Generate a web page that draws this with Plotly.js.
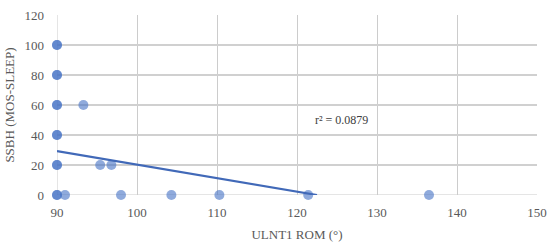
<!DOCTYPE html>
<html>
<head>
<meta charset="utf-8">
<script src="https://cdn.plot.ly/plotly-3.0.1.min.js"></script>
<style>
  html, body { margin: 0; padding: 0; background: #fff; }
  #chart { width: 550px; height: 249px; }
</style>
</head>
<body>
<div id="chart"></div>
<script>
// ULNT1 ROM vs SSBH (MOS-SLEEP) scatter
// points at 90 are listed twice where they look darker (overlapping marks)
var romDeg = [90, 90, 90, 90, 90, 90, 90, 90, 90, 90, 90, 90,
              93.3, 95.4, 96.8, 91, 98, 104.3, 110.3, 121.4, 136.5];
var ssbh   = [100, 100, 80, 80, 60, 60, 40, 40, 20, 20, 0, 0,
              60, 20, 20, 0, 0, 0, 0, 0, 0];

// linear trendline ends, as drawn (clipped at y = 0)
var trendX = [90, 122.5];
var trendY = [29.3, 0];

var serif = "Liberation Serif, DejaVu Serif, serif";
var tickFont = {family: serif, size: 13, color: "#595959"};

var points = {
  x: romDeg,
  y: ssbh,
  type: "scatter",
  mode: "markers",
  marker: {size: 10, color: "rgba(68,114,196,0.6)", line: {width: 0}},
  cliponaxis: false,
  hoverinfo: "x+y"
};

var trend = {
  x: trendX,
  y: trendY,
  type: "scatter",
  mode: "lines",
  line: {color: "#4169b8", width: 2.2},
  hoverinfo: "skip"
};

var layout = {
  width: 550,
  height: 249,
  margin: {l: 57, r: 13, t: 15, b: 54},
  paper_bgcolor: "#fff",
  plot_bgcolor: "#fff",
  showlegend: false,
  xaxis: {
    range: [90, 150],
    dtick: 10,
    showgrid: true,
    gridcolor: "#cccccc",
    gridwidth: 1,
    zeroline: false,
    showline: false,
    ticks: "",
    ticklabelstandoff: 8,
    tickfont: tickFont,
    title: {text: "ULNT1 ROM (°)", font: tickFont, standoff: 10}
  },
  yaxis: {
    range: [0, 120],
    tickmode: "linear",
    tick0: 0,
    dtick: 20,
    showgrid: true,
    gridcolor: "#d0d0d0",
    gridwidth: 1.2,
    zeroline: false,
    showline: false,
    ticks: "",
    ticklabelstandoff: 12,
    tickfont: tickFont,
    title: {text: "SSBH (MOS-SLEEP)", font: tickFont, standoff: 6}
  },
  shapes: [
    {type: "line", xref: "x", yref: "y", x0: 90, x1: 150, y0: 0, y1: 0,
     line: {color: "#cccccc", width: 1.2}, layer: "below"},
    {type: "line", xref: "x", yref: "y", x0: 90, x1: 90, y0: 0, y1: 120,
     line: {color: "#cccccc", width: 1}, layer: "below"}
  ],
  annotations: [{
    x: 125.5, y: 50, xref: "x", yref: "y",
    text: "r² = 0.0879",
    showarrow: false,
    font: {family: serif, size: 12, color: "#404040"}
  }]
};

Plotly.newPlot("chart", [points, trend], layout, {displayModeBar: false, staticPlot: true});
</script>
</body>
</html>
